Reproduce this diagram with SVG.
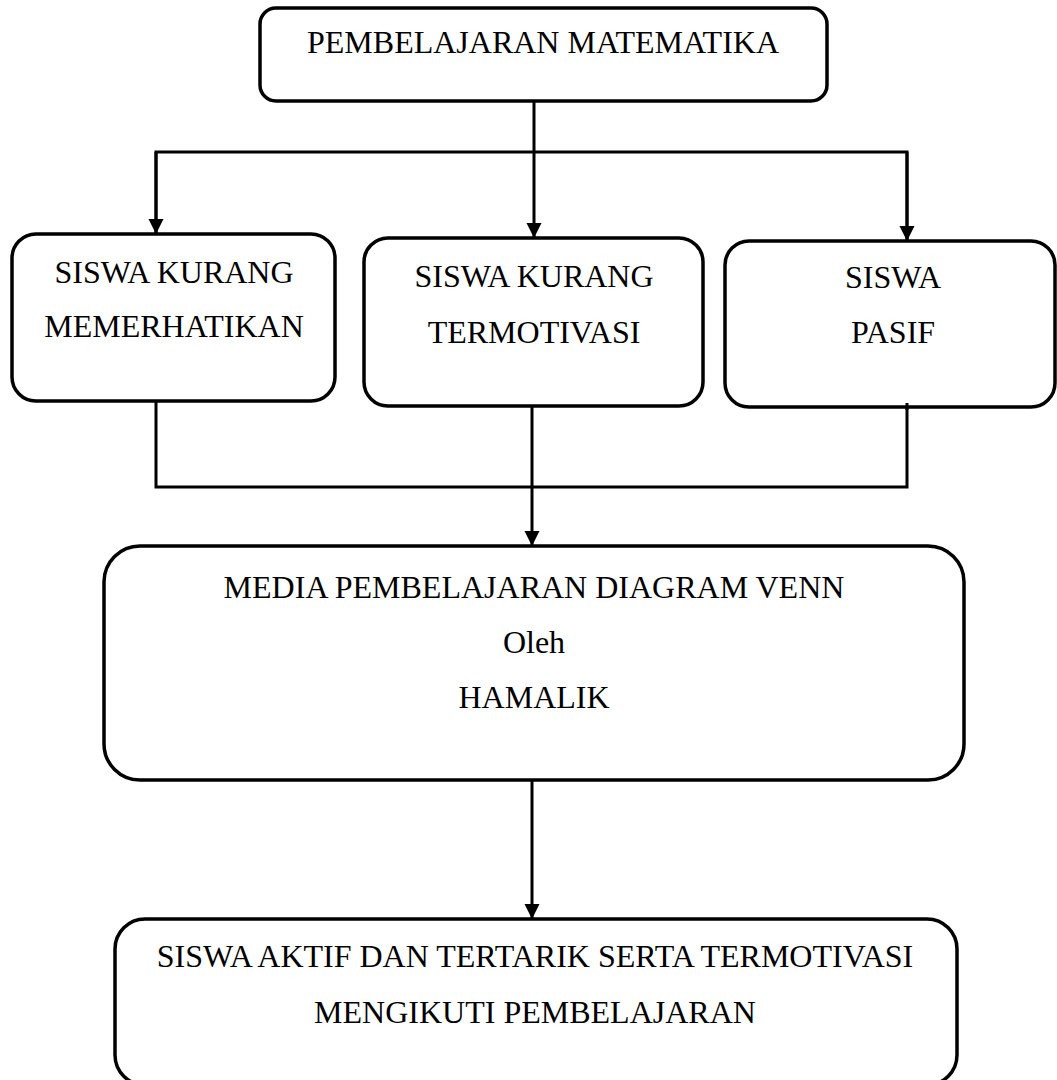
<svg xmlns="http://www.w3.org/2000/svg" width="1057" height="1080" viewBox="0 0 1057 1080">
<style>
.box{fill:#fff;stroke:#000;stroke-width:3.5}
.t{font-family:"Liberation Serif","Times New Roman",serif;font-size:32px;fill:#000;text-anchor:middle}
.c{fill:none;stroke:#000;stroke-width:3}
</style>
<defs>
<marker id="arr" markerUnits="userSpaceOnUse" markerWidth="16" markerHeight="16" refX="15" refY="7.5" orient="auto">
<path d="M0,0 L15,7.5 L0,15 z" fill="#000"/>
</marker>
</defs>
<g id="connectors">
<line class="c" x1="534" y1="101" x2="534" y2="238" marker-end="url(#arr)"/>
<polyline class="c" points="156,234 156,152 907,152 907,241" stroke-width="3.5"/>
<line class="c" x1="156" y1="152" x2="156" y2="234" marker-end="url(#arr)"/>
<line class="c" x1="907" y1="152" x2="907" y2="241" marker-end="url(#arr)"/>
<polyline class="c" points="156,401 156,487 907,487 907,403"/>
<line class="c" x1="532" y1="406" x2="532" y2="546" marker-end="url(#arr)"/>
<line class="c" x1="532" y1="780" x2="532" y2="919" marker-end="url(#arr)"/>
</g>
<g id="n-top">
<rect class="box" x="260" y="8" width="567" height="93" rx="16"/>
<text class="t" x="543" y="53">PEMBELAJARAN MATEMATIKA</text>
</g>
<g id="n-memerhatikan">
<rect class="box" x="12" y="234" width="323" height="167" rx="24"/>
<text class="t" x="174" y="283">SISWA KURANG</text>
<text class="t" x="174" y="337">MEMERHATIKAN</text>
</g>
<g id="n-termotivasi">
<rect class="box" x="364" y="238" width="339" height="168" rx="24"/>
<text class="t" x="534" y="287">SISWA KURANG</text>
<text class="t" x="534" y="343">TERMOTIVASI</text>
</g>
<g id="n-pasif">
<rect class="box" x="725" y="241" width="330" height="166" rx="24"/>
<text class="t" x="893" y="288">SISWA</text>
<text class="t" x="893" y="343">PASIF</text>
</g>
<line class="c" x1="907" y1="403" x2="907" y2="410"/>
<g id="n-media">
<rect class="box" x="104" y="546" width="860" height="234" rx="36"/>
<text class="t" x="534" y="598">MEDIA PEMBELAJARAN DIAGRAM VENN</text>
<text class="t" x="534" y="653">Oleh</text>
<text class="t" x="534" y="708">HAMALIK</text>
</g>
<g id="n-hasil">
<rect class="box" x="115" y="919" width="842" height="166" rx="30"/>
<text class="t" x="535" y="967">SISWA AKTIF DAN TERTARIK SERTA TERMOTIVASI</text>
<text class="t" x="535" y="1023">MENGIKUTI PEMBELAJARAN</text>
</g>
</svg>
